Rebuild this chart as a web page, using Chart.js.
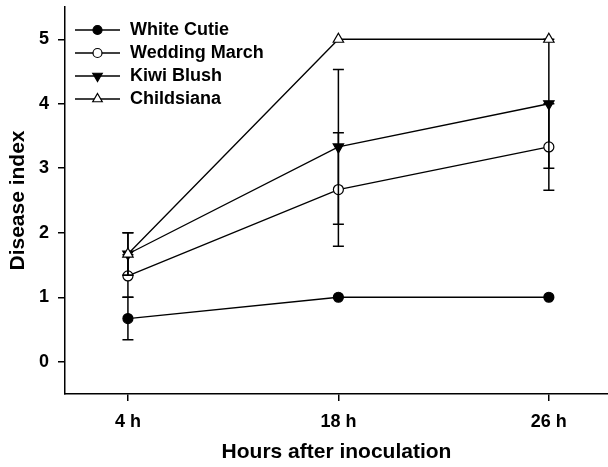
<!DOCTYPE html>
<html>
<head>
<meta charset="utf-8">
<script src="https://cdn.jsdelivr.net/npm/chart.js@4"></script>
<style>
  html, body { margin: 0; padding: 0; background: #fff; }
  canvas { display: block; }
</style>
</head>
<body>
<canvas id="chart" width="608" height="467"></canvas>
<script>
// Disease index per cultivar, hours after inoculation
const timeLabels = ['4 h', '18 h', '26 h'];
const yTicks = [0, 1, 2, 3, 4, 5];
const seriesNames = ['White Cutie', 'Wedding March', 'Kiwi Blush', 'Childsiana'];

const whiteCutie = [0.67, 1, 1];
const weddingMarch = [1.33, 2.67, 3.33];
const kiwiBlush = [1.67, 3.33, 4];
const childsiana = [1.67, 5, 5];

// error bar half-lengths (SD)
const whiteCutieErr = [0.33, 0, 0];
const weddingMarchErr = [0.33, 0.88, 0.67];
const kiwiBlushErr = [0.33, 1.2, 1];
const childsianaErr = [0.33, 0, 0];

const FONT = 'Liberation Sans, Arial, Helvetica, sans-serif';

// marker look per series
const markers = [
  { style: 'circle', fill: '#000', rot: 0 },
  { style: 'circle', fill: '#fff', rot: 0 },
  { style: 'triangle', fill: '#000', rot: 180 },
  { style: 'triangle', fill: '#fff', rot: 0 }
];

function makeDataset(i, values, errors) {
  const m = markers[i];
  return {
    label: seriesNames[i],
    data: values.map((v, k) => ({ x: k, y: v })),
    errors,
    borderColor: '#000',
    borderWidth: 1.3,
    tension: 0,
    pointStyle: m.style,
    pointRotation: m.rot,
    pointRadius: m.style === 'circle' ? 5 : 6,
    pointBackgroundColor: m.fill,
    pointBorderColor: '#000',
    pointBorderWidth: 1.2,
    order: 3 - i
  };
}

// draws each series' error bars just before the series itself
const errorBars = {
  id: 'errorBars',
  beforeDatasetDraw(chart, args) {
    const ds = chart.data.datasets[args.index];
    if (!ds.errors) return;
    const { ctx, scales: { x, y } } = chart;
    ctx.save();
    ctx.strokeStyle = '#000';
    ctx.lineWidth = 1.5;
    ds.data.forEach((p, k) => {
      const e = ds.errors[k];
      if (!e) return;
      const px = x.getPixelForValue(p.x);
      const top = y.getPixelForValue(p.y + e);
      const bot = y.getPixelForValue(p.y - e);
      ctx.beginPath();
      ctx.moveTo(px, top); ctx.lineTo(px, bot);
      ctx.moveTo(px - 5.5, top); ctx.lineTo(px + 5.5, top);
      ctx.moveTo(px - 5.5, bot); ctx.lineTo(px + 5.5, bot);
      ctx.stroke();
    });
    ctx.restore();
  }
};

// legend with line + marker samples, top left inside the plot
const lineLegend = {
  id: 'lineLegend',
  afterDraw(chart) {
    const ctx = chart.ctx;
    ctx.save();
    chart.data.datasets.forEach((ds, i) => {
      const yy = 30 + i * 23;
      ctx.strokeStyle = '#000';
      ctx.lineWidth = 1.3;
      ctx.beginPath();
      ctx.moveTo(75, yy); ctx.lineTo(120, yy);
      ctx.stroke();
      ctx.fillStyle = markers[i].fill;
      ctx.lineWidth = 1.2;
      Chart.helpers.drawPoint(ctx, {
        pointStyle: markers[i].style,
        rotation: markers[i].rot,
        radius: markers[i].style === 'circle' ? 4.5 : 5.5,
        borderWidth: 1.2
      }, 97.5, yy);
      ctx.fillStyle = '#000';
      ctx.font = 'bold 18px ' + FONT;
      ctx.textBaseline = 'middle';
      ctx.textAlign = 'left';
      ctx.fillText(ds.label, 130, yy);
    });
    ctx.restore();
  }
};

new Chart(document.getElementById('chart'), {
  type: 'line',
  data: {
    datasets: [
      makeDataset(0, whiteCutie, whiteCutieErr),
      makeDataset(1, weddingMarch, weddingMarchErr),
      makeDataset(2, kiwiBlush, kiwiBlushErr),
      makeDataset(3, childsiana, childsianaErr)
    ]
  },
  plugins: [errorBars, lineLegend],
  options: {
    responsive: false,
    animation: false,
    layout: { autoPadding: false, padding: { top: 7, right: 0, left: 0, bottom: 0 } },
    plugins: {
      legend: { display: false },
      tooltip: { enabled: false }
    },
    scales: {
      x: {
        type: 'linear',
        min: -0.299,
        max: 2.281,
        afterBuildTicks: s => { s.ticks = timeLabels.map((_, k) => ({ value: k })); },
        afterFit: s => { s.height = 73; s.paddingLeft = 0; s.paddingRight = 0; },
        ticks: {
          callback: v => timeLabels[v],
          color: '#000',
          font: { family: FONT, size: 18, weight: 'bold' },
          padding: 10,
          maxRotation: 0,
          autoSkip: false
        },
        grid: { drawOnChartArea: false, drawTicks: true, tickLength: 7, color: '#000', lineWidth: 1.5 },
        border: { color: '#000', width: 1.5 },
        title: {
          display: true,
          text: 'Hours after inoculation',
          color: '#000',
          font: { family: FONT, size: 21, weight: 'bold' },
          padding: { top: 0, bottom: 2 }
        }
      },
      y: {
        min: -0.5,
        max: 5.5,
        afterBuildTicks: s => { s.ticks = yTicks.map(v => ({ value: v })); },
        afterFit: s => { s.width = 65; s.paddingTop = 0; s.paddingBottom = 0; },
        ticks: {
          color: '#000',
          font: { family: FONT, size: 18, weight: 'bold' },
          padding: 9
        },
        grid: { drawOnChartArea: false, drawTicks: true, tickLength: 7, color: '#000', lineWidth: 1.5 },
        border: { color: '#000', width: 1.5 },
        title: {
          display: true,
          text: 'Disease index',
          color: '#000',
          font: { family: FONT, size: 21, weight: 'bold' },
          padding: { top: 6, bottom: 0 }
        }
      }
    }
  }
});
</script>
</body>
</html>
